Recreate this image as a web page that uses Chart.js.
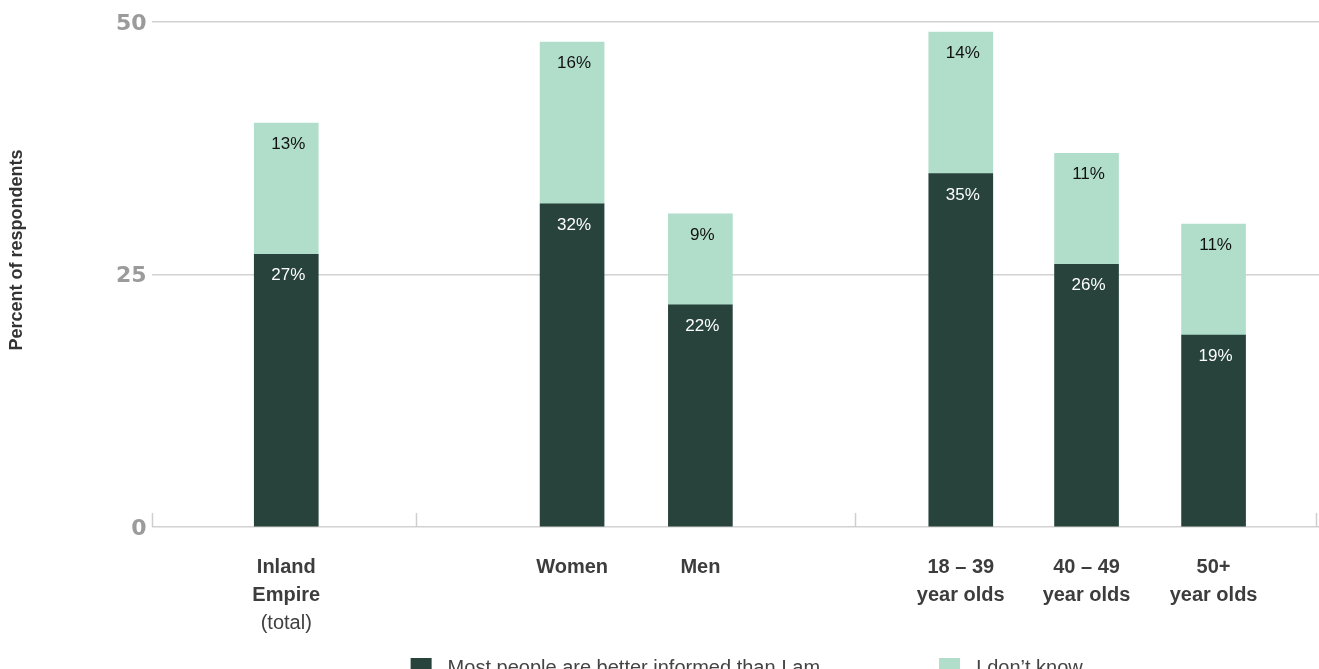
<!DOCTYPE html>
<html>
<head>
<meta charset="utf-8">
<script src="https://cdn.jsdelivr.net/npm/chart.js@4.4.1/dist/chart.umd.min.js"></script>
<style>
  html, body { margin: 0; padding: 0; background: #fff; }
  #wrap { width: 1319px; height: 669px; position: relative; }
</style>
</head>
<body>
<div id="wrap"><canvas id="myChart"></canvas></div>
<script>
// values
const categories = ['Inland Empire (total)', 'Women', 'Men', '18 – 39 year olds', '40 – 49 year olds', '50+ year olds'];
const tickLines = [['Inland', 'Empire', ''], ['Women'], ['Men'], ['18 – 39', 'year olds'], ['40 – 49', 'year olds'], ['50+', 'year olds']];
const betterInformed = [27, 32, 22, 35, 26, 19];
const dontKnow = [13, 16, 9, 14, 11, 11];
const seriesNames = ['Most people are better informed than I am', 'I don\u2019t know'];
const yTicks = [0, 25, 50];
// bar slots on the x axis (groups are spaced unevenly)
const slots = [1.06, 3.31, 4.32, 6.37, 7.36, 8.36];
const groupEdges = [0, 2.08, 5.535, 9.165];

const DARK = '#27433b';
const LIGHT = '#b1deca';
const FONT = "'Liberation Sans', Arial, sans-serif";

const extras = {
  id: 'extras',
  beforeDatasetsDraw(chart) {
    const ctx = chart.ctx;
    const x = chart.scales.x;
    const bottom = chart.chartArea.bottom;
    ctx.save();
    ctx.strokeStyle = '#cfcfcf';
    ctx.lineWidth = 1.5;
    groupEdges.forEach(v => {
      const px = Math.round(x.getPixelForValue(v)) + 0.5;
      ctx.beginPath();
      ctx.moveTo(px, bottom);
      ctx.lineTo(px, bottom - 14);
      ctx.stroke();
    });
    ctx.restore();
  },
  afterDatasetsDraw(chart) {
    const ctx = chart.ctx;
    ctx.save();
    ctx.font = '17px ' + FONT;
    ctx.textAlign = 'center';
    ctx.textBaseline = 'alphabetic';
    chart.data.datasets.forEach((ds, di) => {
      const meta = chart.getDatasetMeta(di);
      meta.data.forEach((bar, i) => {
        ctx.fillStyle = di === 0 ? '#ffffff' : '#111111';
        ctx.fillText(ds.data[i].y + '%', bar.x + 2, bar.y + 26);
      });
    });
    ctx.restore();
  },
  afterDraw(chart) {
    const ctx = chart.ctx;
    const area = chart.chartArea;
    const x = chart.scales.x;
    ctx.save();

    // y axis title
    ctx.translate(17, 250);
    ctx.rotate(-Math.PI / 2);
    ctx.font = 'bold 18px ' + FONT;
    ctx.fillStyle = '#333333';
    ctx.textAlign = 'center';
    ctx.textBaseline = 'middle';
    ctx.fillText('Percent of respondents', 0, 0);
    ctx.setTransform(1, 0, 0, 1, 0, 0);

    // "(total)" under Inland Empire, regular weight
    ctx.font = '20px ' + FONT;
    ctx.fillStyle = '#404040';
    ctx.textAlign = 'center';
    ctx.textBaseline = 'middle';
    ctx.fillText('(total)', x.getPixelForValue(slots[0]), x.top + 26 + 28 * 2.5);

    // legend
    ctx.font = '20px ' + FONT;
    ctx.textAlign = 'left';
    ctx.textBaseline = 'alphabetic';
    let lx = area.left + 259;
    const ly = 658;
    [DARK, LIGHT].forEach((c, i) => {
      ctx.fillStyle = c;
      ctx.fillRect(lx, ly, 21, 21);
      ctx.fillStyle = '#444444';
      ctx.fillText(seriesNames[i], lx + 37, ly + 16);
      lx += 37 + ctx.measureText(seriesNames[i]).width + 119;
    });
    ctx.restore();
  }
};

const data = {
  datasets: [{
    label: seriesNames[0],
    backgroundColor: DARK,
    data: betterInformed.map((v, i) => ({ x: slots[i], y: v }))
  }, {
    label: seriesNames[1],
    backgroundColor: LIGHT,
    data: dontKnow.map((v, i) => ({ x: slots[i], y: v }))
  }]
};

const config = {
  type: 'bar',
  data: data,
  options: {
    responsive: true,
    maintainAspectRatio: false,
    animation: false,
    barThickness: 64,
    layout: { padding: { left: 111, top: 22, right: 0, bottom: 32 } },
    plugins: {
      legend: { display: false },
      tooltip: { enabled: false }
    },
    scales: {
      x: {
        type: 'linear',
        stacked: true,
        min: 0,
        max: 9.19,
        offset: false,
        grid: { display: false, drawTicks: false, offset: false },
        border: { display: false },
        afterBuildTicks: axis => { axis.ticks = slots.map(v => ({ value: v })); },
        afterFit: axis => { axis.height = 110; },
        ticks: {
          autoSkip: false,
          maxRotation: 0,
          padding: 26,
          color: '#3d3d3d',
          font: { family: FONT, size: 20, weight: 'bold', lineHeight: 1.4 },
          callback: (value, index) => tickLines[index]
        }
      },
      y: {
        stacked: true,
        min: 0,
        max: 50,
        afterBuildTicks: axis => { axis.ticks = yTicks.map(v => ({ value: v })); },
        grid: { color: '#d2d2d2', lineWidth: 1.5, drawTicks: false },
        border: { display: false },
        ticks: {
          padding: 5,
          labelOffset: 2,
          color: '#9b9b9b',
          font: { family: "'DejaVu Sans', sans-serif", size: 22, weight: 'bold' }
        }
      }
    }
  },
  plugins: [extras]
};

let myChart = new Chart(document.getElementById('myChart'), config);
</script>
</body>
</html>
